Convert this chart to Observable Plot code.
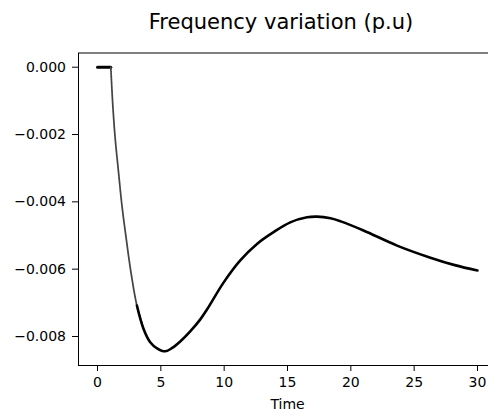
<!DOCTYPE html>
<html>
<head>
<meta charset="utf-8">
<script src="https://cdn.jsdelivr.net/npm/d3@7"></script>
<script src="https://cdn.jsdelivr.net/npm/@observablehq/plot@0.6"></script>
<style>
  html, body { margin: 0; padding: 0; background: #fff; overflow: hidden; }
  #chart { width: 488px; height: 410px; overflow: hidden; }
  #chart svg { max-width: none !important; width: 496px; height: 410px; font-family: "DejaVu Sans", sans-serif; }
</style>
</head>
<body>
<div id="chart"></div>
<script>
const title = "Frequency variation (p.u)";
const xLabel = "Time";
const times = [0, 0.5, 1.05, 1.21, 1.40, 1.66, 1.93, 2.27, 2.64, 3.11, 3.63, 4.16, 4.7, 5.35, 5.9, 6.53, 7.32, 8.1, 8.64, 9.95, 11.27, 12.59, 13.9, 15.22, 16.54, 17.33, 18.4, 19.2, 21.0, 23.65, 26.28, 28.2, 30];
const values = [0, 0, 0, -0.00114, -0.00213, -0.00312, -0.00411, -0.0051, -0.00609, -0.00708, -0.00777, -0.00817, -0.00835, -0.00844, -0.00834, -0.00815, -0.00785, -0.0075, -0.0072, -0.0064, -0.00574, -0.00525, -0.0049, -0.00461, -0.00446, -0.00444, -0.00449, -0.00458, -0.00485, -0.0053, -0.00566, -0.00588, -0.00604];
const xTicks = [0, 5, 10, 15, 20, 25, 30];
const yTicks = [0, -0.002, -0.004, -0.006, -0.008];

const rows = times.map((t, i) => ({t, v: values[i], i}));
const flat = rows.filter(d => d.i <= 2);
const steep = rows.filter(d => d.i >= 2 && d.i <= 10);
const rest = rows.filter(d => d.i >= 9);

const vMin = d3.min(values), vMax = d3.max(values);
const vPad = (vMax - vMin) * 0.05;
const tPad = (d3.max(times) - d3.min(times)) * 0.05;

const chart = Plot.plot({
  width: 496,
  height: 410,
  marginLeft: 78,
  marginTop: 52.5,
  marginBottom: 45,
  marginRight: 0,
  style: {fontFamily: "DejaVu Sans, sans-serif", fontSize: "14px", color: "black", background: "white", maxWidth: "none"},
  x: {domain: [d3.min(times) - tPad, d3.max(times) + tPad]},
  y: {domain: [vMin - vPad, vMax + vPad]},
  marks: [
    Plot.frame({stroke: "black", strokeWidth: 1}),
    Plot.axisX({ticks: xTicks, tickSize: 6, tickPadding: 5.5, label: null, fontSize: 14, tickFormat: d3.format("d")}),
    Plot.axisY({ticks: yTicks, tickSize: 6, tickPadding: 6.5, label: null, fontSize: 14, tickFormat: d3.format(".3f")}),
    Plot.line(flat, {x: "t", y: "v", stroke: "black", strokeWidth: 3}),
    Plot.line(steep, {x: "t", y: "v", curve: "catmull-rom", stroke: "#444", strokeWidth: 1.8, strokeDasharray: "1.2,0.8"}),
    Plot.line(rest, {x: "t", y: "v", curve: "catmull-rom", stroke: "black", strokeWidth: 2.6}),
    Plot.text([xLabel], {frameAnchor: "bottom", dy: 43, lineAnchor: "bottom", fontSize: 14, fill: "black"}),
    Plot.text([title], {frameAnchor: "top", dx: -6.5, dy: -24.2, lineAnchor: "bottom", fontSize: 21, fill: "black"})
  ]
});
document.getElementById("chart").appendChild(chart);
</script>
</body>
</html>
